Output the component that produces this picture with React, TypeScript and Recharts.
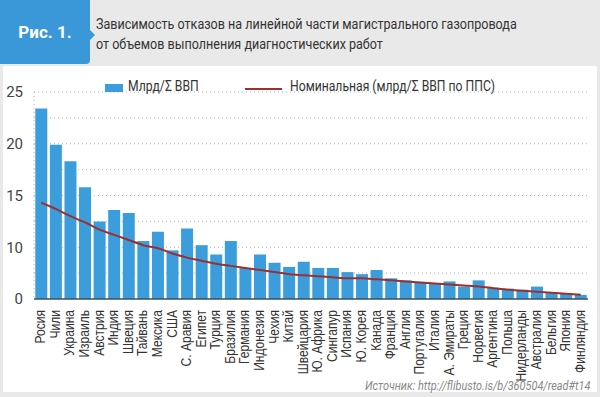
import {
  Bar,
  CartesianGrid,
  ComposedChart,
  Legend,
  Line,
  XAxis,
  YAxis,
} from "recharts";

const countries = [
  "Росия", "Чили", "Украина", "Израиль", "Австрия", "Индия", "Швеция",
  "Тайвань", "Мексика", "США", "С. Аравия", "Египет", "Турция", "Бразилия",
  "Германия", "Индонезия", "Чехия", "Китай", "Швейцария", "Ю. Африка",
  "Сингапур", "Испания", "Ю. Корея", "Канада", "Франция", "Англия",
  "Португалия", "Италия", "А. Эмираты", "Греция", "Норвегия", "Аргентина",
  "Польша", "Нидерланды", "Австралия", "Бельгия", "Япония", "Финляндия",
];

const gdpValues = [
  23.4, 19.9, 18.3, 15.8, 12.5, 13.6, 13.3, 10.6, 11.5, 9.7, 11.8, 10.2,
  9.3, 10.6, 8.0, 9.3, 8.5, 8.1, 8.6, 8.0, 8.0, 7.6, 7.4, 7.8, 7.0, 6.8,
  6.6, 6.5, 6.7, 6.2, 6.8, 6.1, 6.0, 5.9, 6.2, 5.6, 5.5, 5.4,
];

const nominalValues = [
  14.3, 13.7, 13.0, 12.4, 11.7, 11.2, 10.7, 10.2, 9.9, 9.4, 9.0, 8.7, 8.4,
  8.2, 8.0, 7.8, 7.6, 7.4, 7.3, 7.2, 7.1, 7.0, 7.0, 6.9, 6.8, 6.7, 6.6,
  6.5, 6.4, 6.3, 6.2, 6.05, 5.9, 5.8, 5.7, 5.6, 5.5, 5.4,
];

const yTicks = [5, 10, 15, 20, 25];
const gridValues = [7.5, 10, 12.5, 15, 17.5, 20, 22.5, 25];

const data = countries.map((name, i) => ({
  name,
  gdp: gdpValues[i],
  nominal: nominalValues[i],
}));

const BLUE = "#3b9ddb";
const RED = "#9c302c";

const narrow = { display: "inline-block", transform: "scaleX(0.84)", transformOrigin: "left top" };

const renderLegend = () => (
  <div
    style={{
      position: "relative",
      height: 16,
      fontFamily: "Roboto, sans-serif",
      fontSize: 14.5,
      color: "#333",
      whiteSpace: "nowrap",
    }}
  >
    <span style={{ position: "absolute", left: 0, top: 4, width: 18, height: 8, background: BLUE }} />
    <span style={{ ...narrow, position: "absolute", left: 23, top: -2 }}>Млрд/Σ ВВП</span>
    <span style={{ position: "absolute", left: 140, top: 8, width: 37, height: 2, background: RED }} />
    <span style={{ ...narrow, position: "absolute", left: 185, top: -2 }}>
      Номинальная (млрд/Σ ВВП по ППС)
    </span>
  </div>
);

const renderXTick = (props: any) => {
  const { x, y, payload } = props;
  return (
    <text
      transform={`translate(${x + 4},${y + 3}) rotate(-90) scale(0.86,1)`}
      textAnchor="end"
      fill="#333"
      fontSize={14}
      fontFamily="Liberation Sans, Arial, sans-serif"
    >
      {payload.value}
    </text>
  );
};

export default function App() {
  return (
    <div
      style={{
        position: "relative",
        width: 600,
        height: 397,
        background: "#e9e9e9",
        overflow: "hidden",
      }}
    >
      <style>{`body{margin:0}`}</style>
      <div
        style={{
          position: "absolute",
          left: 0,
          top: 0,
          width: 90,
          height: 64,
          background: "#3a98d8",
          borderBottomRightRadius: 4,
          color: "#fff",
          fontFamily: "Roboto, sans-serif",
          fontWeight: 700,
          fontSize: 17,
          display: "flex",
          alignItems: "center",
          justifyContent: "center",
        }}
      >
        Рис. 1.
      </div>
      <div
        style={{
          position: "absolute",
          left: 90,
          top: 30,
          width: 0,
          height: 0,
          borderTop: "5px solid transparent",
          borderBottom: "5px solid transparent",
          borderLeft: "5px solid #3a98d8",
        }}
      />
      <div
        style={{
          position: "absolute",
          left: 96,
          top: 14,
          fontFamily: "Roboto, sans-serif",
          fontSize: 15.5,
          lineHeight: "20px",
          color: "#333",
          whiteSpace: "nowrap",
          transform: "scaleX(0.81)",
          transformOrigin: "left top",
        }}
      >
        Зависимость отказов на линейной части магистрального газопровода
        <br />
        от объемов выполнения диагностических работ
      </div>
      <div
        style={{
          position: "absolute",
          left: 3,
          top: 66,
          width: 594,
          height: 326,
          background: "#fff",
        }}
      />
      <div style={{ position: "absolute", left: 0, top: 66 }}>
        <ComposedChart
          width={600}
          height={320}
          data={data}
          margin={{ top: 10, right: 12, bottom: 0, left: 0 }}
          barCategoryGap={1.3}
        >
          <CartesianGrid
            vertical={false}
            horizontalValues={gridValues}
            stroke="#b5b5b5"
            strokeDasharray="1 3"
          />
          <XAxis
            dataKey="name"
            interval={0}
            height={87}
            tickLine={false}
            axisLine={{ stroke: "#3f4f5f", strokeWidth: 1.5 }}
            tick={renderXTick}
          />
          <YAxis
            domain={[5, 25]}
            ticks={yTicks}
            width={34}
            tickLine={false}
            axisLine={{ stroke: "#b5b5b5", strokeDasharray: "1 3" }}
            tickFormatter={(v: number) => (v === 5 ? "0" : String(v))}
            tick={{ fill: "#444", fontSize: 15, fontFamily: "Roboto, sans-serif", dx: -3 }}
          />
          <Legend
            verticalAlign="top"
            content={renderLegend}
            wrapperStyle={{ top: 14, left: 105, width: 480 }}
          />
          <Bar dataKey="gdp" fill={BLUE} isAnimationActive={false} />
          <Line
            type="monotone"
            dataKey="nominal"
            stroke={RED}
            strokeWidth={2}
            dot={false}
            isAnimationActive={false}
          />
        </ComposedChart>
      </div>
      <div
        style={{
          position: "absolute",
          right: 10,
          top: 378,
          fontFamily: "Roboto, sans-serif",
          fontStyle: "italic",
          fontSize: 13,
          color: "#888",
          whiteSpace: "nowrap",
          transform: "scaleX(0.84)",
          transformOrigin: "right top",
        }}
      >
        Источник: http://flibusto.is/b/360504/read#t14
      </div>
    </div>
  );
}
